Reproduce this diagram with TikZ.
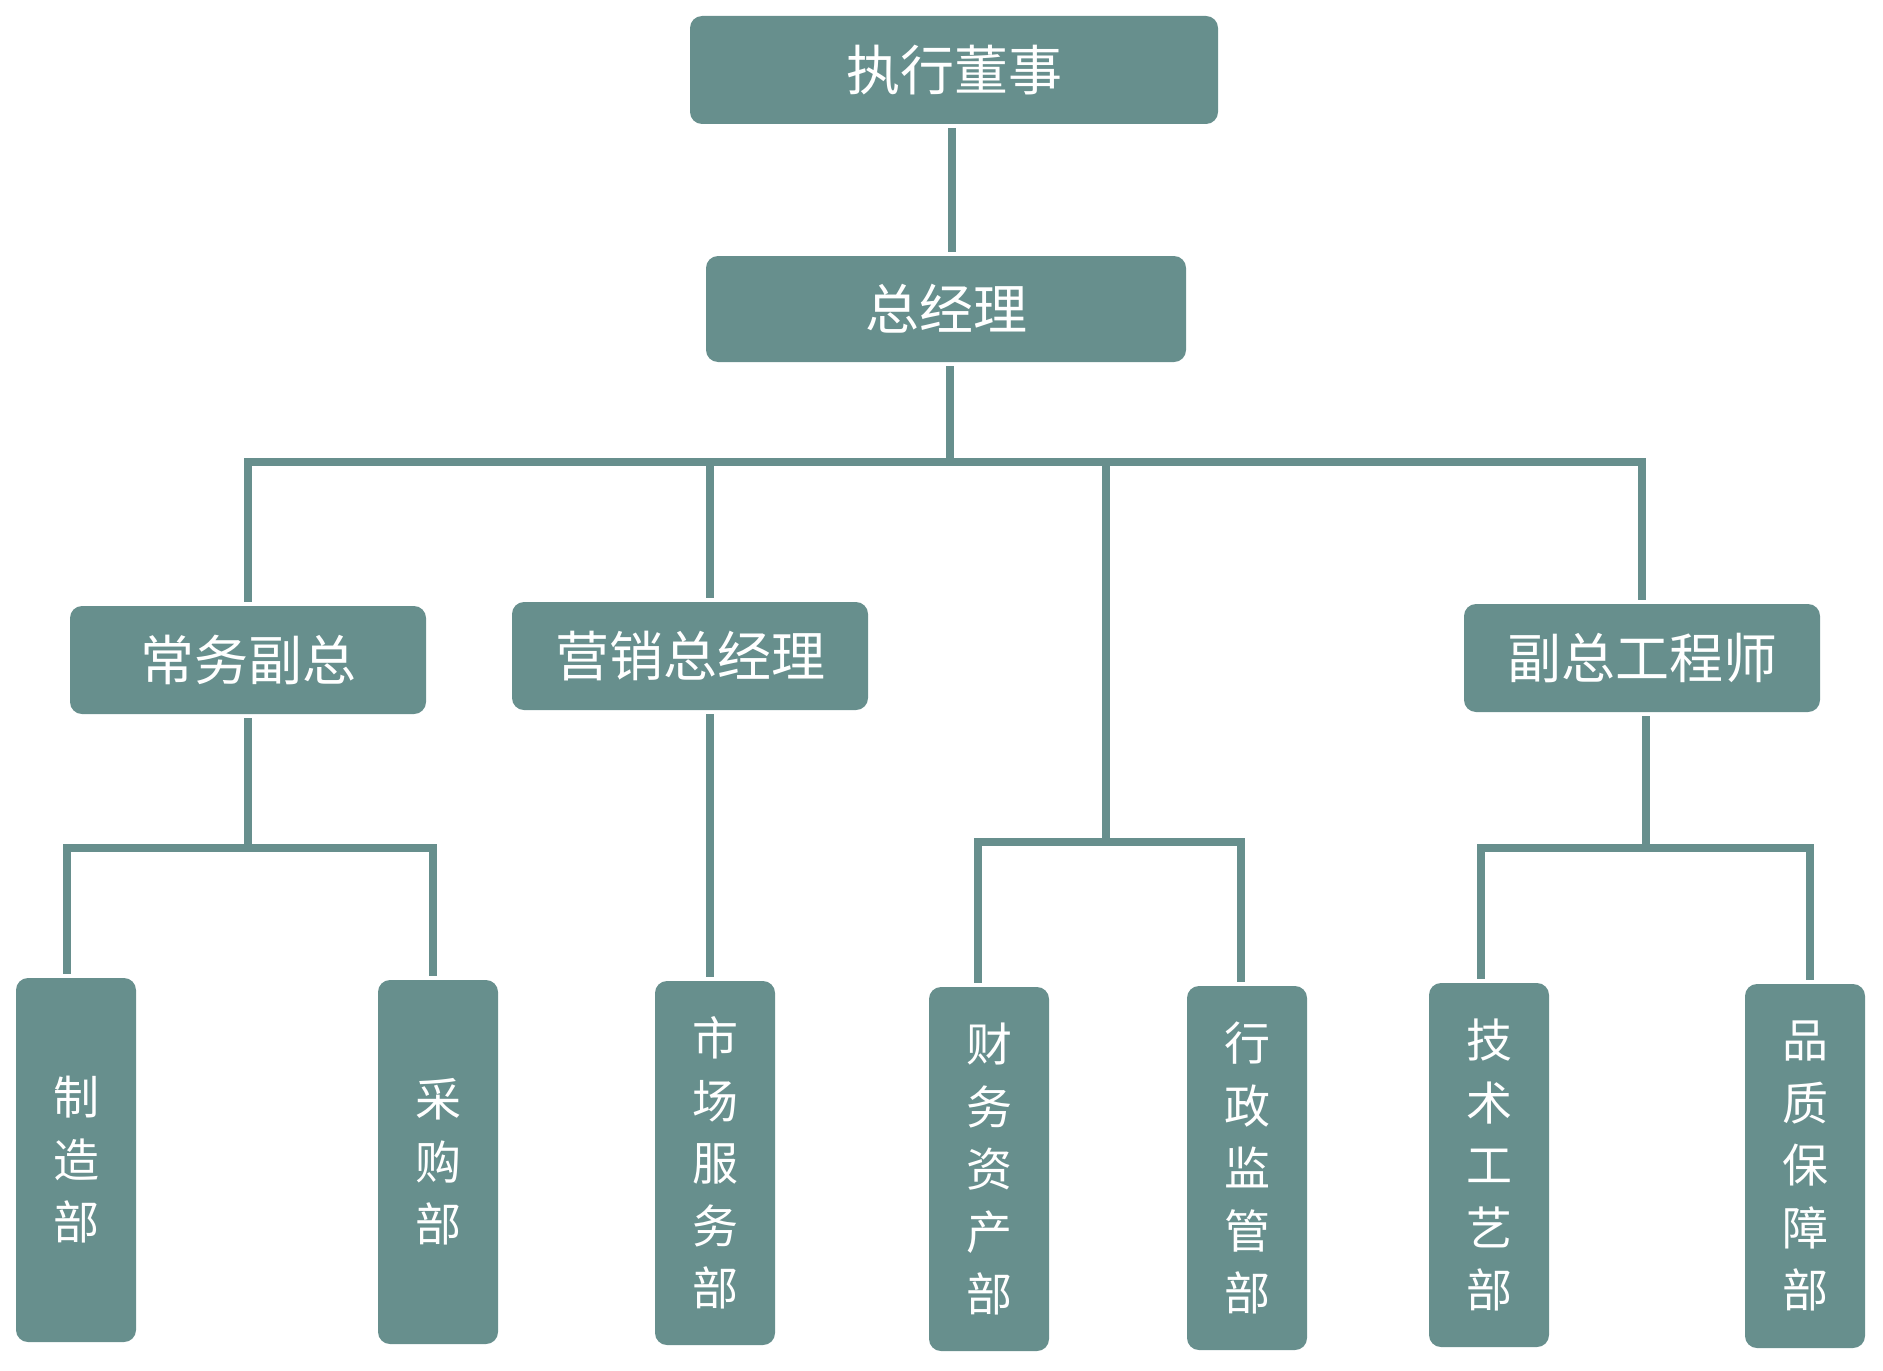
\documentclass[tikz,border=0pt]{standalone}
\usepackage{fontspec}
\newfontfamily\cjk{Noto Sans CJK SC}
\usepackage{tikz}
\usetikzlibrary{positioning,calc}
\definecolor{boxteal}{HTML}{678F8D}

\begin{document}
\begin{tikzpicture}[x=0.5pt,y=-0.5pt,
    box/.style={fill=boxteal,rounded corners=6pt,text=white,inner sep=0pt,
      font=\cjk\fontsize{27}{33}\selectfont},
    head/.style={box,minimum width=178pt,minimum height=54pt},
    dept/.style={box,minimum width=60pt,minimum height=182pt,align=center,
      font=\cjk\fontsize{23}{31.25}\selectfont},
    link/.style={draw=boxteal,line width=3.6pt,shorten <=2pt,shorten >=2pt}]
  \useasboundingbox (0,0) rectangle (1883,1370);
  \node[box,minimum width=264pt,minimum height=54pt] (exec) at (954,70) {执行董事};
  \node[box,minimum width=240pt,minimum height=53pt] (gm) at (946,309) {总经理};
  \node[head] (vp) at (248,660) {常务副总};
  \node[head] (sales) at (690,656) {营销总经理};
  \node[head] (ce) at (1642,658) {副总工程师};
  \node[dept] (make) at (76,1160) {制\\造\\部};
  \node[dept] (buy) at (438,1162) {采\\购\\部};
  \node[dept] (market) at (715,1163) {市\\场\\服\\务\\部};
  \node[dept] (fin) at (989,1169) {财\\务\\资\\产\\部};
  \node[dept] (admin) at (1247,1168) {行\\政\\监\\管\\部};
  \node[dept] (tech) at (1489,1165) {技\\术\\工\\艺\\部};
  \node[dept] (qual) at (1805,1166) {品\\质\\保\\障\\部};
  \coordinate (bus) at (950,462);
  \coordinate (split) at (1106,842);
  \draw[link] ([xshift=-1pt]exec.south) -- ([xshift=-1pt]exec.south |- gm.north);
  \draw[link] ([xshift=2pt]gm.south) -- ([xshift=2pt]gm.south |- bus);
  \draw[link,shorten >=0pt] (vp.north) |- (bus);
  \draw[link,shorten <=0pt] (bus) -| (ce.north);
  \draw[link,shorten <=0pt] ([xshift=10pt]sales.north |- bus) -- ([xshift=10pt]sales.north);
  \draw[link,shorten <=0pt,shorten >=0pt] (split |- bus) -- (split);
  \draw[link] ([xshift=10pt]sales.south) -- ([xshift=10pt]sales.south |- market.north);
  \draw[link,shorten >=0pt] (vp.south) -- (vp.south |- 0,848);
  \draw[link] ([xshift=-4.5pt]make.north) |- (vp.south |- 0,848) -| ([xshift=-2.5pt]buy.north);
  \draw[link] ([xshift=-5.5pt]fin.north) |- (split) -| ([xshift=-3pt]admin.north);
  \draw[link,shorten >=0pt] ([xshift=2pt]ce.south) -- ([xshift=2pt]ce.south |- 0,848);
  \draw[link] ([xshift=-4pt]tech.north) |- ([xshift=2pt]ce.south |- 0,848) -| ([xshift=2.5pt]qual.north);
\end{tikzpicture}
\end{document}
